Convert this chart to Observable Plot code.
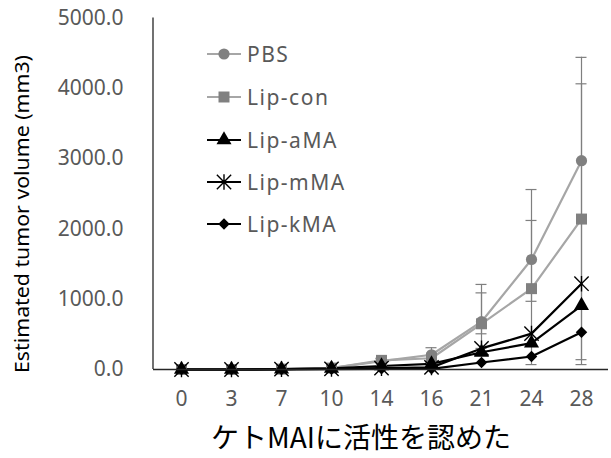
<!DOCTYPE html>
<html><head><meta charset="utf-8">
<script src="https://cdn.jsdelivr.net/npm/d3@7"></script>
<script src="https://cdn.jsdelivr.net/npm/@observablehq/plot@0.6"></script>
<style>body{margin:0;background:#fff} svg{display:block}</style>
</head><body><div id="chart"></div>
<script>
// Categories (days)
const days = ["0","3","7","10","14","16","21","24","28"];
// Series values (mm3)
const pbs    = [0, 0, 5, 20, 120, 210, 680, 1565, 2970];
const lipCon = [0, 0, 5, 20, 130, 160, 650, 1150, 2140];
const lipAMA = [0, 0, 5, 15, 50, 80, 245, 375, 910];
const lipMMA = [0, 0, 5, 10, 20, 30, 300, 510, 1220];
const lipKMA = [0, 0, 0, 5, 10, 10, 100, 185, 530];
// Error bar ends (mm3), null = none visible
const pbsErrHi = [null, null, null, null, 160, 310, 1210, 2560, 4440];
const pbsErrLo = [null, null, null, null, 90, 100, 300, 970, 140];
const conErrHi = [null, null, null, null, 150, 200, 1090, 2120, 4064];
const conErrLo = [null, null, null, null, 100, 110, 508, 70, 70];
// Axis ticks
const yTicks = [0, 1000, 2000, 3000, 4000, 5000];
const seriesNames = ["PBS", "Lip-con", "Lip-aMA", "Lip-mMA", "Lip-kMA"];
const seriesValues = [pbs, lipCon, lipAMA, lipMMA, lipKMA];
const xTitle = "ケトMAIに活性を認めた";
const yTitle = "Estimated tumor volume (mm3)";

// styles
const star = {
  draw(ctx, size) {
    const r = Math.sqrt(size) * 0.62;
    ctx.moveTo(-r, -r); ctx.lineTo(r, r);
    ctx.moveTo(-r, r); ctx.lineTo(r, -r);
    ctx.moveTo(0, -r * 1.1); ctx.lineTo(0, r * 1.1);
  }
};
const sSymbols = [d3.symbolCircle, d3.symbolSquare, d3.symbolTriangle, star, d3.symbolDiamond2];
const sR = [5.6, 6.2, 5.6, 6.5, 5.2];
const sFill = ["#808080", "#808080", "#000", "none", "#000"];
const sStroke = ["none", "none", "none", "#000", "none"];
const sLine = ["#a6a6a6", "#a6a6a6", "#000", "#000", "#000"];

const rows = seriesNames.map((s, i) => days.map((d, j) => ({series: s, day: d, value: seriesValues[i][j]})));
const errRows = [];
days.forEach((d, j) => {
  if (pbsErrHi[j] != null) errRows.push({day: d, hi: pbsErrHi[j], lo: pbsErrLo[j]});
  if (conErrHi[j] != null) errRows.push({day: d, hi: conErrHi[j], lo: conErrLo[j]});
});

const marks = [
  Plot.ruleX(errRows, {x: "day", y1: "lo", y2: "hi", stroke: "#7f7f7f", strokeWidth: 1.2}),
  Plot.tickY(errRows, {x: "day", y: "hi", stroke: "#7f7f7f", strokeWidth: 1.2, insetLeft: 19.5, insetRight: 19.5}),
  Plot.tickY(errRows, {x: "day", y: "lo", stroke: "#7f7f7f", strokeWidth: 1.2, insetLeft: 19.5, insetRight: 19.5}),
];
[0,1,2,3,4].forEach(i => marks.push(Plot.line(rows[i], {x: "day", y: "value", stroke: sLine[i], strokeWidth: 2.2})));
[0,1,2,3,4].forEach(i => marks.push(Plot.dot(rows[i], {x: "day", y: "value", symbol: sSymbols[i], r: sR[i], fill: sFill[i], stroke: sStroke[i], strokeWidth: 1.4})));
marks.push(Plot.ruleY([0], {stroke: "#262626", strokeWidth: 1.3}));
marks.push(Plot.axisY({ticks: yTicks, tickFormat: d => d.toFixed(1), tickSize: 0, tickPadding: 30, fontSize: 21, fill: "#595959", label: null}));
marks.push(Plot.axisX({tickSize: 0, tickPadding: 22, fontSize: 21, fill: "#595959", label: null}));

const chart = Plot.plot({
  width: 611, height: 458,
  marginLeft: 153, marginRight: 3, marginTop: 17.5, marginBottom: 89,
  style: {fontFamily: "'Noto Sans', sans-serif", background: "#fff"},
  x: {type: "band", domain: days, padding: 0},
  y: {domain: [0, 5000]},
  marks
});
document.getElementById("chart").appendChild(chart);

const svg = d3.select(chart);
const xr = chart.scale("x").range, yr = chart.scale("y").range;
svg.append("line").attr("x1", xr[0]).attr("x2", xr[0]).attr("y1", yr[1]).attr("y2", yr[0])
  .attr("stroke", "#262626").attr("stroke-width", 1.3);

// Y title
svg.append("text").attr("transform", "translate(22,214) rotate(-90)")
  .attr("text-anchor", "middle").attr("dominant-baseline", "central")
  .attr("font-family", "'Noto Sans', sans-serif").attr("font-size", 19)
  .attr("textLength", 318).attr("lengthAdjust", "spacingAndGlyphs")
  .attr("fill", "#000").text(yTitle);
// X title
svg.append("text").attr("x", 361).attr("y", 448)
  .attr("text-anchor", "middle")
  .attr("font-family", "'Noto Sans CJK JP', sans-serif").attr("font-size", 28)
  .attr("fill", "#000").text(xTitle);

// Legend
const lg = svg.append("g");
const legendY = [54, 97, 140, 182, 224];
seriesNames.forEach((s, i) => {
  const g = lg.append("g").attr("transform", `translate(0,${legendY[i]})`);
  g.append("line").attr("x1", 207).attr("x2", 241).attr("y1", 0).attr("y2", 0)
    .attr("stroke", sLine[i]).attr("stroke-width", 2.2);
  g.append("path").attr("transform", "translate(224,0)")
    .attr("d", d3.symbol(sSymbols[i], Math.PI * sR[i] * sR[i])())
    .attr("fill", sFill[i]).attr("stroke", sStroke[i]).attr("stroke-width", 1.4);
  g.append("text").attr("x", 247).attr("y", 0).attr("dominant-baseline", "central")
    .attr("text-anchor", "start")
    .attr("font-family", "'Noto Sans', sans-serif").attr("font-size", 21)
    .attr("letter-spacing", 1.5).attr("fill", "#595959").text(s);
});
</script></body></html>
